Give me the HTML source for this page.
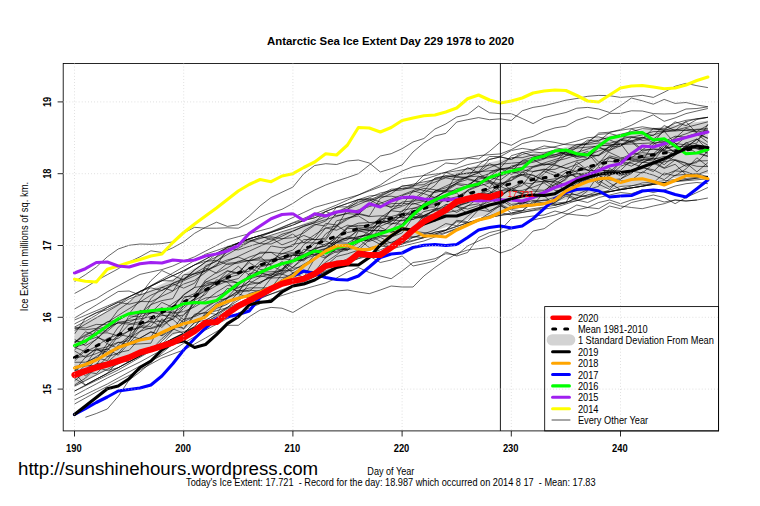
<!DOCTYPE html><html><head><meta charset="utf-8"><style>html,body{margin:0;padding:0;background:#fff;width:760px;height:506px;overflow:hidden}</style></head><body><svg width="760" height="506" viewBox="0 0 760 506" style="position:absolute;left:0;top:0;font-family:'Liberation Sans',sans-serif">
<rect width="760" height="506" fill="#fff"/>
<polygon points="74.5,327.5 85.4,321.9 96.3,316.4 107.3,311.1 118.2,305.8 129.1,300.4 140.0,294.9 150.9,289.5 161.9,284.1 172.8,279.1 183.7,274.0 194.6,268.2 205.5,262.5 216.5,256.5 227.4,250.5 238.3,246.2 249.2,242.0 260.1,238.8 271.1,235.5 282.0,231.9 292.9,228.2 303.8,223.5 314.7,218.9 325.7,214.6 336.6,210.3 347.5,206.5 358.4,202.7 369.3,199.2 380.3,195.6 391.2,192.3 402.1,189.0 413.0,186.0 423.9,182.5 434.9,179.0 445.8,175.2 456.7,171.5 467.6,167.7 478.5,165.1 489.5,162.6 500.4,160.0 511.3,157.8 522.2,155.6 533.1,153.4 544.1,151.6 555.0,149.8 565.9,147.0 576.8,144.2 587.7,140.9 598.7,137.6 609.6,135.6 620.5,133.5 631.4,131.8 642.3,130.0 653.3,128.2 664.2,126.5 675.1,125.0 686.0,123.5 696.9,122.0 707.9,120.5 707.9,173.5 696.9,175.0 686.0,176.5 675.1,178.0 664.2,179.5 653.3,181.2 642.3,183.0 631.4,184.8 620.5,186.5 609.6,188.4 598.7,190.4 587.7,193.6 576.8,196.8 565.9,199.5 555.0,202.2 544.1,203.9 533.1,205.6 522.2,207.7 511.3,209.8 500.4,212.0 489.5,214.6 478.5,217.1 467.6,219.7 456.7,223.5 445.8,227.2 434.9,231.0 423.9,234.5 413.0,238.0 402.1,241.0 391.2,244.2 380.3,247.4 369.3,250.8 358.4,254.3 347.5,258.0 336.6,261.7 325.7,265.9 314.7,270.1 303.8,274.6 292.9,279.2 282.0,283.4 271.1,287.5 260.1,291.2 249.2,295.0 238.3,299.8 227.4,304.5 216.5,311.0 205.5,317.5 194.6,323.8 183.7,330.0 172.8,335.4 161.9,340.9 150.9,346.7 140.0,352.5 129.1,358.4 118.2,364.2 107.3,369.9 96.3,375.6 85.4,381.6 74.5,387.5" fill="#d3d3d3"/>
<g fill="none" stroke="#000" stroke-width="0.6" stroke-linejoin="round">
<path d="M74.5,293.5 L85.4,287.6 L96.3,280.7 L107.3,274.7 L118.2,268.8 L129.1,262.0 L140.0,256.8 L150.9,250.8 L161.9,252.5 L172.8,247.8 L183.7,241.8 L194.6,233.3 L205.5,227.3 L216.5,222.2 L227.4,226.4 L238.3,224.7 L249.2,216.2 L260.1,205.9 L271.1,197.4 L282.0,192.2 L292.9,187.1 L303.8,173.7 L314.7,165.5 L325.7,163.7 L336.6,164.5 L347.5,161.0 L358.4,160.0 L369.3,163.0 L380.3,172.0 L391.2,168.7 L402.1,165.0 L413.0,152.0 L423.9,142.8 L434.9,136.0 L445.8,133.4 L456.7,122.0 L467.6,119.7 L478.5,117.6 L489.5,119.7 L500.4,118.8 L511.3,120.5 L522.2,110.8 L533.1,107.4 L544.1,105.7 L555.0,103.0 L565.9,100.2 L576.8,98.5 L587.7,96.3 L598.7,95.4 L609.6,95.7 L620.5,97.4 L631.4,96.5 L642.3,95.3 L653.3,97.4 L664.2,92.2 L675.1,86.3 L686.0,83.3 L696.9,85.7 L707.9,87.6"/>
<path d="M74.5,281.6 L85.4,274.7 L96.3,267.0 L107.3,256.8 L118.2,249.0 L129.1,245.3 L140.0,244.0 L150.9,244.3 L161.9,243.6 L172.8,241.9 L183.7,233.0 L194.6,227.3 L205.5,228.2 L216.5,228.2 L227.4,227.8 L238.3,228.2 L249.2,223.0 L260.1,217.0 L271.1,212.8 L282.0,209.3 L292.9,203.4 L303.8,196.0 L314.7,190.0 L325.7,185.0 L336.6,181.0 L347.5,177.5 L358.4,173.7 L369.3,165.0 L380.3,156.0 L391.2,153.7 L402.1,148.7 L413.0,142.0 L423.9,138.5 L434.9,129.0 L445.8,124.0 L456.7,117.0 L467.6,114.5 L478.5,106.0 L489.5,112.8 L500.4,113.7 L511.3,113.7 L522.2,118.5 L533.1,123.6 L544.1,117.6 L555.0,115.0 L565.9,112.5 L576.8,108.2 L587.7,107.4 L598.7,109.0 L609.6,112.5 L620.5,105.7 L631.4,98.0 L642.3,100.8 L653.3,104.2 L664.2,99.4 L675.1,103.4 L686.0,102.5 L696.9,105.0 L707.9,106.8"/>
<path d="M74.5,320.0 L85.4,315.3 L96.3,310.7 L107.3,306.0 L118.2,301.3 L129.1,296.7 L140.0,292.0 L150.9,285.7 L161.9,279.4 L172.8,273.1 L183.7,266.8 L194.6,260.5 L205.5,254.2 L216.5,250.5 L227.4,246.7 L238.3,242.9 L249.2,239.1 L260.1,235.4 L271.1,231.6 L282.0,227.2 L292.9,222.7 L303.8,218.3 L314.7,213.9 L325.7,209.5 L336.6,205.0 L347.5,200.0 L358.4,195.0 L369.3,190.0 L380.3,185.0 L391.2,177.5 L402.1,171.0 L413.0,166.7 L423.9,164.7 L434.9,161.6 L445.8,159.9 L456.7,159.0 L467.6,157.8 L478.5,155.6 L489.5,154.7 L500.4,153.9 L511.3,149.6 L522.2,143.6 L533.1,141.0 L544.1,140.7 L555.0,142.4 L565.9,144.7 L576.8,145.0 L587.7,143.3 L598.7,133.0 L609.6,132.2 L620.5,129.6 L631.4,125.3 L642.3,119.6 L653.3,114.8 L664.2,121.3 L675.1,117.9 L686.0,113.6 L696.9,111.0 L707.9,108.5"/>
<path d="M74.5,330.5 L85.4,324.2 L96.3,317.9 L107.3,311.5 L118.2,305.2 L129.1,298.9 L140.0,295.0 L150.9,291.2 L161.9,287.3 L172.8,283.5 L183.7,279.6 L194.6,273.3 L205.5,267.1 L216.5,260.8 L227.4,254.5 L238.3,248.3 L249.2,242.0 L260.1,238.6 L271.1,235.2 L282.0,231.7 L292.9,228.3 L303.8,224.9 L314.7,221.5 L325.7,216.7 L336.6,212.0 L347.5,207.2 L358.4,202.5 L369.3,197.8 L380.3,193.0 L391.2,190.7 L402.1,188.3 L413.0,186.0 L423.9,175.0 L434.9,170.0 L445.8,163.0 L456.7,164.0 L467.6,158.0 L478.5,159.0 L489.5,151.3 L500.4,142.0 L511.3,145.3 L522.2,139.3 L533.1,136.4 L544.1,131.3 L555.0,127.9 L565.9,126.2 L576.8,120.2 L587.7,116.8 L598.7,119.3 L609.6,113.4 L620.5,113.4 L631.4,110.8 L642.3,111.0 L653.3,113.6 L664.2,114.0 L675.1,113.6 L686.0,109.0 L696.9,108.5 L707.9,106.8"/>
<path d="M74.5,342.5 L85.4,335.7 L96.3,329.0 L107.3,322.2 L118.2,315.5 L129.1,308.7 L140.0,302.0 L150.9,295.2 L161.9,290.4 L172.8,285.5 L183.7,280.7 L194.6,275.8 L205.5,271.0 L216.5,266.1 L227.4,261.3 L238.3,256.3 L249.2,251.2 L260.1,246.2 L271.1,241.2 L282.0,236.2 L292.9,231.1 L303.8,226.1 L314.7,222.9 L325.7,219.6 L336.6,216.4 L347.5,213.1 L358.4,209.9 L369.3,206.6 L380.3,203.4 L391.2,199.1 L402.1,194.9 L413.0,190.6 L423.9,186.3 L434.9,182.1 L445.8,177.8 L456.7,180.0 L467.6,177.0 L478.5,165.0 L489.5,156.5 L500.4,156.5 L511.3,150.5 L522.2,148.4 L533.1,150.0 L544.1,145.9 L555.0,147.6 L565.9,150.0 L576.8,146.7 L587.7,143.5 L598.7,140.2 L609.6,137.3 L620.5,134.5 L631.4,131.6 L642.3,128.7 L653.3,129.2 L664.2,129.8 L675.1,130.3 L686.0,127.5 L696.9,124.7 L707.9,121.8"/>
<path d="M74.5,309.0 L85.4,303.0 L96.3,298.7 L107.3,291.8 L118.2,285.9 L129.1,279.9 L140.0,274.4 L150.9,272.0 L161.9,269.6 L172.8,266.0 L183.7,261.0 L194.6,256.8 L205.5,251.1 L216.5,245.4 L227.4,239.7 L238.3,236.7 L249.2,233.7 L260.1,230.7 L271.1,227.7 L282.0,222.6 L292.9,217.5 L303.8,212.5 L314.7,207.4 L325.7,204.3 L336.6,201.2 L347.5,198.1 L358.4,195.0 L369.3,190.9 L380.3,186.8 L391.2,182.7 L402.1,178.6 L413.0,177.1 L423.9,175.6 L434.9,174.1 L445.8,172.6 L456.7,170.8 L467.6,168.9 L478.5,167.0 L489.5,165.2 L500.4,164.2 L511.3,163.2 L522.2,162.2 L533.1,161.2 L544.1,158.0 L555.0,154.7 L565.9,151.4 L576.8,148.1 L587.7,147.1 L598.7,146.1 L609.6,145.1 L620.5,144.1 L631.4,141.0 L642.3,137.9 L653.3,134.9 L664.2,131.8 L675.1,131.0 L686.0,130.1 L696.9,129.3 L707.9,128.4"/>
<path d="M74.5,318.0 L85.4,311.5 L96.3,305.0 L107.3,298.2 L118.2,291.5 L129.1,291.0 L140.0,295.0 L150.9,280.7 L161.9,270.5 L172.8,275.6 L183.7,279.9 L194.6,270.0 L205.5,262.0 L216.5,256.8 L227.4,251.5 L238.3,246.2 L249.2,241.6 L260.1,237.0 L271.1,232.4 L282.0,227.7 L292.9,223.1 L303.8,220.3 L314.7,217.5 L325.7,214.7 L336.6,211.9 L347.5,209.1 L358.4,204.5 L369.3,200.0 L380.3,195.5 L391.2,190.9 L402.1,186.4 L413.0,184.2 L423.9,181.9 L434.9,179.6 L445.8,177.4 L456.7,175.1 L467.6,172.9 L478.5,171.8 L489.5,170.8 L500.4,169.7 L511.3,168.6 L522.2,167.5 L533.1,166.4 L544.1,163.0 L555.0,159.5 L565.9,156.0 L576.8,152.5 L587.7,149.0 L598.7,145.5 L609.6,145.0 L620.5,144.5 L631.4,144.0 L642.3,143.4 L653.3,142.9 L664.2,142.4 L675.1,139.6 L686.0,136.8 L696.9,133.9 L707.9,131.1"/>
<path d="M74.5,404.0 L85.4,398.0 L96.3,392.0 L107.3,386.5 L118.2,381.0 L129.1,375.5 L140.0,370.0 L150.9,364.0 L161.9,358.0 L172.8,354.0 L183.7,350.0 L194.6,344.0 L205.5,338.0 L216.5,331.6 L227.4,325.3 L238.3,325.3 L249.2,316.8 L260.1,310.0 L271.1,307.4 L282.0,308.2 L292.9,312.5 L303.8,306.0 L314.7,300.0 L325.7,295.0 L336.6,291.0 L347.5,290.0 L358.4,292.0 L369.3,293.7 L380.3,290.0 L391.2,286.0 L402.1,287.0 L413.0,287.0 L423.9,276.0 L434.9,267.5 L445.8,260.0 L456.7,253.7 L467.6,250.0 L478.5,248.7 L489.5,247.5 L500.4,253.0 L511.3,249.5 L522.2,242.5 L533.1,231.0 L544.1,228.7 L555.0,221.0 L565.9,215.0 L576.8,210.0 L587.7,207.5 L598.7,208.7 L609.6,202.5 L620.5,206.0 L631.4,207.5 L642.3,208.7 L653.3,206.0 L664.2,203.7 L675.1,200.0 L686.0,201.0 L696.9,200.0"/>
<path d="M74.5,399.9 L85.4,394.6 L96.3,389.3 L107.3,384.0 L118.2,378.0 L129.1,372.0 L140.0,366.0 L150.9,360.7 L161.9,355.3 L172.8,350.0 L183.7,343.3 L194.6,336.7 L205.5,330.0 L216.5,324.3 L227.4,318.7 L238.3,313.0 L249.2,308.3 L260.1,303.7 L271.1,299.0 L282.0,295.5 L292.9,292.0 L303.8,289.0 L314.7,286.0 L325.7,283.0 L336.6,278.0 L347.5,272.0 L358.4,267.5 L369.3,272.5 L380.3,276.0 L391.2,278.7 L402.1,271.0 L413.0,262.5 L423.9,261.0 L434.9,258.7 L445.8,253.7 L456.7,255.0 L467.6,246.0 L478.5,241.0 L489.5,236.0 L500.4,232.5 L511.3,228.7 L522.2,226.0 L533.1,220.0 L544.1,217.5 L555.0,215.0 L565.9,211.0 L576.8,205.0 L587.7,207.5 L598.7,202.5 L609.6,200.0 L620.5,203.7 L631.4,200.0 L642.3,197.5 L653.3,195.0 L664.2,197.5 L675.1,203.7 L686.0,197.5 L696.9,192.5 L707.9,187.5"/>
<path d="M74.5,395.6 L85.4,389.7 L96.3,383.9 L107.3,378.0 L118.2,372.7 L129.1,367.3 L140.0,362.0 L150.9,356.0 L161.9,350.0 L172.8,344.0 L183.7,337.7 L194.6,331.3 L205.5,325.0 L216.5,319.3 L227.4,313.7 L238.3,308.0 L249.2,303.3 L260.1,298.7 L271.1,294.0 L282.0,289.7 L292.9,285.3 L303.8,281.0 L314.7,276.3 L325.7,271.7 L336.6,267.0 L347.5,262.9 L358.4,258.7 L369.3,256.0 L380.3,262.5 L391.2,260.0 L402.1,256.0 L413.0,266.0 L423.9,263.7 L434.9,261.0 L445.8,252.0 L456.7,256.0 L467.6,252.5 L478.5,237.5 L489.5,232.5 L500.4,230.0 L511.3,218.7 L522.2,217.5 L533.1,216.0 L544.1,215.0 L555.0,211.0 L565.9,213.7 L576.8,215.0 L587.7,216.0 L598.7,212.5 L609.6,206.0 L620.5,208.7 L631.4,202.5 L642.3,200.0 L653.3,198.7 L664.2,202.0 L675.1,200.0 L686.0,201.0 L696.9,200.0 L707.9,198.0"/>
<path d="M74.5,391.0 L85.4,385.8 L96.3,380.5 L107.3,375.3 L118.2,370.0 L129.1,363.7 L140.0,357.3 L150.9,351.0 L161.9,344.6 L172.8,338.3 L183.7,332.9 L194.6,327.5 L205.5,322.1 L216.5,316.7 L227.4,311.2 L238.3,306.2 L249.2,301.1 L260.1,296.1 L271.1,291.0 L282.0,285.9 L292.9,282.1 L303.8,278.3 L314.7,274.5 L325.7,270.7 L336.6,266.8 L347.5,262.6 L358.4,258.3 L369.3,254.0 L380.3,249.8 L391.2,245.5 L402.1,242.9 L413.0,240.3 L423.9,237.7 L434.9,235.0 L445.8,232.4 L456.7,228.4 L467.6,224.5 L478.5,220.5 L489.5,216.5 L500.4,212.5 L511.3,215.0 L522.2,212.5 L533.1,210.0 L544.1,207.5 L555.0,202.5 L565.9,196.0 L576.8,200.0 L587.7,202.5 L598.7,197.5 L609.6,195.0 L620.5,192.5 L631.4,193.7 L642.3,190.0 L653.3,192.5 L664.2,190.0 L675.1,186.0 L686.0,183.7 L696.9,182.5 L707.9,183.7"/>
<path d="M85.4,417.3 L96.3,413.5 L107.3,409.0 L118.2,396.4 L129.1,380.0 L140.0,372.0 L150.9,362.6 L161.9,353.3 L172.8,343.9 L183.7,336.8 L194.6,329.8 L205.5,322.7 L216.5,315.6 L227.4,308.6 L238.3,304.9 L249.2,301.3 L260.1,297.7 L271.1,294.1 L282.0,290.5 L292.9,286.8 L303.8,281.9 L314.7,276.9 L325.7,271.9 L336.6,266.9 L347.5,261.9 L358.4,256.9 L369.3,254.2 L380.3,251.6 L391.2,248.9 L402.1,246.3 L413.0,243.6 L423.9,241.0 L434.9,237.0 L445.8,233.1 L456.7,229.1 L467.6,225.1 L478.5,221.1 L489.5,217.2 L500.4,215.5 L511.3,213.9 L522.2,212.3 L533.1,210.7 L544.1,209.1 L555.0,207.4 L565.9,204.0 L576.8,200.5 L587.7,197.0 L598.7,193.5 L609.6,190.0 L620.5,186.5 L631.4,185.5 L642.3,184.6 L653.3,183.6 L664.2,182.7 L675.1,181.7 L686.0,180.7 L696.9,179.8 L707.9,178.8"/>
<path d="M74.5,386.0 L85.4,380.5 L96.3,374.9 L107.3,369.4 L118.2,363.9 L129.1,358.4 L140.0,353.5 L150.9,348.7 L161.9,343.9 L172.8,339.0 L183.7,334.2 L194.6,327.4 L205.5,320.7 L216.5,313.9 L227.4,307.2 L238.3,300.4 L249.2,293.7 L260.1,290.2 L271.1,286.7 L282.0,283.2 L292.9,279.7 L303.8,276.2 L314.7,272.7 L325.7,268.0 L336.6,263.4 L347.5,258.7 L358.4,254.1 L369.3,249.5 L380.3,244.8 L391.2,242.3 L402.1,239.8 L413.0,237.3 L423.9,234.8 L434.9,232.3 L445.8,229.8 L456.7,226.3 L467.6,222.7 L478.5,219.2 L489.5,215.6 L500.4,212.1 L511.3,208.5 L522.2,207.2 L533.1,205.9 L544.1,204.6 L555.0,203.3 L565.9,202.0 L576.8,200.7 L587.7,197.8 L598.7,194.8 L609.6,191.9 L620.5,188.9 L631.4,186.0 L642.3,183.0 L653.3,181.9 L664.2,180.7 L675.1,179.6 L686.0,178.4 L696.9,177.3 L707.9,176.2"/>
<path d="M74.5,327.0 L85.4,321.3 L96.3,315.1 L107.3,307.6 L118.2,302.3 L129.1,304.2 L140.0,301.5 L150.9,301.7 L161.9,296.2 L172.8,291.2 L183.7,274.7 L194.6,273.9 L205.5,270.1 L216.5,265.6 L227.4,249.0 L238.3,243.0 L249.2,238.8 L260.1,235.6 L271.1,232.4 L282.0,228.8 L292.9,225.1 L303.8,220.5 L314.7,218.0 L325.7,211.5 L336.6,215.7 L347.5,213.6 L358.4,214.5 L369.3,204.0 L380.3,196.4 L391.2,191.0 L402.1,189.9 L413.0,186.7 L423.9,179.4 L434.9,175.9 L445.8,172.1 L456.7,168.3 L467.6,164.6 L478.5,162.3 L489.5,159.4 L500.4,156.9 L511.3,159.5 L522.2,152.5 L533.1,150.3 L544.1,148.5 L555.0,146.7 L565.9,143.8 L576.8,141.0 L587.7,137.7 L598.7,136.9 L609.6,139.9 L620.5,144.5 L631.4,142.3 L642.3,139.0 L653.3,128.4 L664.2,128.8 L675.1,123.3 L686.0,120.3 L696.9,118.8 L707.9,117.3"/>
<path d="M74.5,334.0 L85.4,318.4 L96.3,312.8 L107.3,309.7 L118.2,304.5 L129.1,296.9 L140.0,291.4 L150.9,286.1 L161.9,280.7 L172.8,275.7 L183.7,270.6 L194.6,264.9 L205.5,261.3 L216.5,260.4 L227.4,264.6 L238.3,263.1 L249.2,260.4 L260.1,258.5 L271.1,245.9 L282.0,247.8 L292.9,246.3 L303.8,230.8 L314.7,224.3 L325.7,226.1 L336.6,213.0 L347.5,210.5 L358.4,214.0 L369.3,204.9 L380.3,206.5 L391.2,203.7 L402.1,203.3 L413.0,204.2 L423.9,201.2 L434.9,203.3 L445.8,194.7 L456.7,188.4 L467.6,187.2 L478.5,176.7 L489.5,177.3 L500.4,180.0 L511.3,172.1 L522.2,160.4 L533.1,157.1 L544.1,154.4 L555.0,151.0 L565.9,154.0 L576.8,155.1 L587.7,141.6 L598.7,134.4 L609.6,133.5 L620.5,136.5 L631.4,137.3 L642.3,134.9 L653.3,131.6 L664.2,131.5 L675.1,129.7 L686.0,130.3 L696.9,132.1 L707.9,130.2"/>
<path d="M74.5,339.3 L85.4,345.7 L96.3,339.5 L107.3,329.3 L118.2,320.4 L129.1,314.2 L140.0,313.5 L150.9,304.6 L161.9,300.6 L172.8,298.6 L183.7,279.3 L194.6,269.9 L205.5,262.2 L216.5,253.8 L227.4,247.3 L238.3,243.0 L249.2,238.8 L260.1,235.6 L271.1,240.0 L282.0,234.2 L292.9,231.2 L303.8,226.5 L314.7,222.6 L325.7,211.5 L336.6,207.2 L347.5,206.7 L358.4,199.6 L369.3,198.2 L380.3,202.0 L391.2,208.0 L402.1,195.5 L413.0,192.1 L423.9,188.4 L434.9,189.7 L445.8,192.3 L456.7,173.9 L467.6,173.7 L478.5,171.9 L489.5,159.4 L500.4,156.9 L511.3,159.4 L522.2,154.5 L533.1,151.9 L544.1,153.0 L555.0,150.0 L565.9,150.6 L576.8,156.5 L587.7,153.1 L598.7,165.7 L609.6,155.9 L620.5,158.6 L631.4,154.3 L642.3,152.7 L653.3,154.0 L664.2,150.5 L675.1,138.4 L686.0,128.4 L696.9,131.5 L707.9,125.2"/>
<path d="M74.5,327.3 L85.4,328.0 L96.3,324.4 L107.3,324.8 L118.2,310.0 L129.1,302.4 L140.0,291.4 L150.9,287.8 L161.9,290.5 L172.8,283.9 L183.7,288.1 L194.6,283.2 L205.5,268.1 L216.5,273.2 L227.4,267.8 L238.3,261.3 L249.2,260.5 L260.1,260.0 L271.1,259.8 L282.0,256.7 L292.9,255.2 L303.8,252.3 L314.7,240.7 L325.7,228.0 L336.6,226.0 L347.5,219.4 L358.4,213.4 L369.3,216.1 L380.3,198.4 L391.2,193.6 L402.1,185.9 L413.0,185.3 L423.9,184.7 L434.9,178.7 L445.8,176.0 L456.7,177.5 L467.6,176.9 L478.5,176.1 L489.5,180.8 L500.4,186.3 L511.3,191.2 L522.2,182.8 L533.1,183.8 L544.1,170.2 L555.0,163.0 L565.9,150.8 L576.8,144.3 L587.7,144.5 L598.7,143.0 L609.6,143.3 L620.5,140.2 L631.4,141.9 L642.3,151.2 L653.3,149.0 L664.2,149.4 L675.1,145.7 L686.0,136.8 L696.9,133.2 L707.9,138.6"/>
<path d="M74.5,328.4 L85.4,329.8 L96.3,328.4 L107.3,321.8 L118.2,320.1 L129.1,313.8 L140.0,299.9 L150.9,286.1 L161.9,280.7 L172.8,280.9 L183.7,271.6 L194.6,264.9 L205.5,259.2 L216.5,253.2 L227.4,247.3 L238.3,243.0 L249.2,238.8 L260.1,235.6 L271.1,232.4 L282.0,228.8 L292.9,225.1 L303.8,220.5 L314.7,215.8 L325.7,211.5 L336.6,207.2 L347.5,203.4 L358.4,199.6 L369.3,199.6 L380.3,205.5 L391.2,206.4 L402.1,205.3 L413.0,190.9 L423.9,193.7 L434.9,197.5 L445.8,191.1 L456.7,184.4 L467.6,187.0 L478.5,181.9 L489.5,187.5 L500.4,174.0 L511.3,171.5 L522.2,175.3 L533.1,167.4 L544.1,164.6 L555.0,163.8 L565.9,155.4 L576.8,154.4 L587.7,155.4 L598.7,151.0 L609.6,147.2 L620.5,139.4 L631.4,136.5 L642.3,140.5 L653.3,139.1 L664.2,131.3 L675.1,143.5 L686.0,144.9 L696.9,143.1 L707.9,124.2"/>
<path d="M74.5,347.2 L85.4,351.7 L96.3,346.5 L107.3,338.5 L118.2,334.6 L129.1,315.8 L140.0,317.0 L150.9,312.7 L161.9,302.4 L172.8,307.4 L183.7,295.0 L194.6,287.5 L205.5,285.6 L216.5,282.0 L227.4,274.7 L238.3,266.3 L249.2,275.1 L260.1,276.4 L271.1,259.3 L282.0,259.6 L292.9,255.4 L303.8,254.8 L314.7,248.2 L325.7,233.8 L336.6,227.2 L347.5,209.1 L358.4,201.0 L369.3,201.0 L380.3,196.9 L391.2,196.2 L402.1,198.1 L413.0,198.8 L423.9,199.6 L434.9,197.3 L445.8,191.7 L456.7,192.3 L467.6,185.7 L478.5,177.4 L489.5,173.5 L500.4,169.3 L511.3,167.2 L522.2,164.2 L533.1,162.3 L544.1,159.1 L555.0,150.3 L565.9,154.2 L576.8,156.8 L587.7,154.6 L598.7,155.5 L609.6,149.4 L620.5,139.2 L631.4,141.2 L642.3,137.2 L653.3,142.6 L664.2,130.0 L675.1,121.8 L686.0,125.7 L696.9,119.5 L707.9,117.3"/>
<path d="M74.5,342.0 L85.4,341.1 L96.3,337.3 L107.3,341.0 L118.2,338.3 L129.1,330.6 L140.0,326.9 L150.9,328.8 L161.9,325.3 L172.8,318.8 L183.7,306.0 L194.6,298.9 L205.5,286.4 L216.5,282.5 L227.4,275.5 L238.3,272.1 L249.2,262.5 L260.1,269.5 L271.1,269.1 L282.0,261.6 L292.9,267.7 L303.8,256.1 L314.7,252.2 L325.7,249.0 L336.6,240.6 L347.5,227.5 L358.4,223.2 L369.3,222.6 L380.3,223.6 L391.2,220.0 L402.1,220.8 L413.0,219.5 L423.9,215.5 L434.9,210.9 L445.8,204.6 L456.7,203.7 L467.6,190.0 L478.5,185.0 L489.5,172.8 L500.4,167.9 L511.3,155.7 L522.2,152.5 L533.1,155.7 L544.1,158.4 L555.0,157.0 L565.9,152.1 L576.8,158.4 L587.7,155.6 L598.7,155.7 L609.6,145.9 L620.5,141.4 L631.4,129.0 L642.3,132.5 L653.3,135.7 L664.2,125.5 L675.1,130.6 L686.0,121.7 L696.9,118.8 L707.9,117.3"/>
<path d="M74.5,341.8 L85.4,334.7 L96.3,329.3 L107.3,326.3 L118.2,323.2 L129.1,324.1 L140.0,321.7 L150.9,304.5 L161.9,294.3 L172.8,283.0 L183.7,278.5 L194.6,273.6 L205.5,271.2 L216.5,256.5 L227.4,247.3 L238.3,244.0 L249.2,240.8 L260.1,237.9 L271.1,236.8 L282.0,238.7 L292.9,237.6 L303.8,232.9 L314.7,225.2 L325.7,221.0 L336.6,207.2 L347.5,203.4 L358.4,199.6 L369.3,196.0 L380.3,194.7 L391.2,189.2 L402.1,188.6 L413.0,188.0 L423.9,190.5 L434.9,192.6 L445.8,189.9 L456.7,182.8 L467.6,179.5 L478.5,181.9 L489.5,181.1 L500.4,174.6 L511.3,166.0 L522.2,163.7 L533.1,159.6 L544.1,154.3 L555.0,154.9 L565.9,152.4 L576.8,155.1 L587.7,151.4 L598.7,162.1 L609.6,157.4 L620.5,160.8 L631.4,158.1 L642.3,160.9 L653.3,144.3 L664.2,139.5 L675.1,142.8 L686.0,154.3 L696.9,152.5 L707.9,155.9"/>
<path d="M74.5,358.1 L85.4,356.0 L96.3,349.3 L107.3,346.9 L118.2,334.5 L129.1,336.6 L140.0,324.4 L150.9,320.8 L161.9,327.4 L172.8,316.8 L183.7,315.0 L194.6,305.4 L205.5,291.9 L216.5,285.6 L227.4,281.1 L238.3,278.6 L249.2,267.8 L260.1,272.7 L271.1,275.2 L282.0,268.9 L292.9,259.4 L303.8,259.9 L314.7,248.6 L325.7,246.0 L336.6,237.1 L347.5,228.6 L358.4,228.3 L369.3,230.7 L380.3,221.5 L391.2,221.4 L402.1,216.2 L413.0,213.5 L423.9,216.6 L434.9,216.3 L445.8,206.5 L456.7,212.5 L467.6,206.1 L478.5,198.1 L489.5,194.3 L500.4,181.9 L511.3,190.2 L522.2,194.3 L533.1,183.7 L544.1,173.6 L555.0,164.6 L565.9,168.4 L576.8,164.4 L587.7,158.8 L598.7,154.7 L609.6,146.9 L620.5,146.1 L631.4,137.6 L642.3,137.7 L653.3,139.4 L664.2,141.7 L675.1,136.2 L686.0,137.1 L696.9,134.1 L707.9,142.3"/>
<path d="M74.5,358.9 L85.4,349.2 L96.3,339.0 L107.3,328.6 L118.2,322.6 L129.1,320.4 L140.0,318.8 L150.9,316.6 L161.9,322.5 L172.8,310.7 L183.7,319.8 L194.6,299.2 L205.5,289.2 L216.5,283.5 L227.4,277.6 L238.3,274.8 L249.2,268.1 L260.1,266.1 L271.1,263.6 L282.0,250.4 L292.9,244.3 L303.8,242.4 L314.7,234.7 L325.7,227.9 L336.6,230.2 L347.5,225.2 L358.4,227.0 L369.3,227.7 L380.3,226.3 L391.2,221.6 L402.1,210.4 L413.0,208.2 L423.9,207.9 L434.9,201.8 L445.8,198.2 L456.7,198.9 L467.6,191.0 L478.5,199.3 L489.5,192.8 L500.4,190.8 L511.3,187.6 L522.2,193.3 L533.1,191.1 L544.1,192.4 L555.0,184.8 L565.9,179.7 L576.8,165.8 L587.7,170.5 L598.7,170.8 L609.6,157.7 L620.5,159.9 L631.4,156.9 L642.3,157.3 L653.3,156.8 L664.2,145.7 L675.1,152.7 L686.0,147.0 L696.9,139.7 L707.9,131.9"/>
<path d="M74.5,350.9 L85.4,357.3 L96.3,353.6 L107.3,348.7 L118.2,355.2 L129.1,343.1 L140.0,331.4 L150.9,327.9 L161.9,324.1 L172.8,308.4 L183.7,302.3 L194.6,295.3 L205.5,280.0 L216.5,272.5 L227.4,263.4 L238.3,262.1 L249.2,257.1 L260.1,253.4 L271.1,252.4 L282.0,259.4 L292.9,255.1 L303.8,256.5 L314.7,248.4 L325.7,245.6 L336.6,246.1 L347.5,250.0 L358.4,242.7 L369.3,236.3 L380.3,223.2 L391.2,220.0 L402.1,213.3 L413.0,212.9 L423.9,203.7 L434.9,191.2 L445.8,190.8 L456.7,190.8 L467.6,187.1 L478.5,186.1 L489.5,183.0 L500.4,185.6 L511.3,177.0 L522.2,174.3 L533.1,175.1 L544.1,180.3 L555.0,178.8 L565.9,175.9 L576.8,173.0 L587.7,176.8 L598.7,166.8 L609.6,175.6 L620.5,166.3 L631.4,162.1 L642.3,159.3 L653.3,161.2 L664.2,147.7 L675.1,146.6 L686.0,146.4 L696.9,145.0 L707.9,154.3"/>
<path d="M74.5,362.3 L85.4,362.2 L96.3,357.6 L107.3,360.6 L118.2,344.9 L129.1,336.1 L140.0,310.3 L150.9,313.2 L161.9,307.6 L172.8,313.3 L183.7,311.6 L194.6,306.9 L205.5,300.6 L216.5,292.3 L227.4,285.4 L238.3,287.3 L249.2,284.5 L260.1,282.5 L271.1,276.7 L282.0,274.3 L292.9,268.4 L303.8,266.4 L314.7,259.7 L325.7,248.7 L336.6,252.4 L347.5,250.0 L358.4,239.9 L369.3,240.9 L380.3,227.3 L391.2,232.4 L402.1,229.2 L413.0,229.1 L423.9,224.4 L434.9,218.1 L445.8,204.8 L456.7,206.5 L467.6,201.1 L478.5,198.9 L489.5,195.2 L500.4,194.8 L511.3,188.9 L522.2,185.6 L533.1,171.5 L544.1,169.1 L555.0,172.6 L565.9,177.4 L576.8,173.0 L587.7,177.5 L598.7,170.3 L609.6,170.8 L620.5,175.8 L631.4,171.0 L642.3,173.0 L653.3,164.1 L664.2,161.9 L675.1,159.6 L686.0,162.9 L696.9,171.9 L707.9,162.6"/>
<path d="M74.5,361.1 L85.4,350.5 L96.3,350.2 L107.3,349.4 L118.2,342.6 L129.1,340.7 L140.0,325.9 L150.9,326.4 L161.9,312.4 L172.8,303.3 L183.7,296.6 L194.6,296.5 L205.5,290.9 L216.5,282.3 L227.4,279.3 L238.3,282.9 L249.2,276.4 L260.1,273.2 L271.1,276.0 L282.0,264.0 L292.9,273.0 L303.8,277.3 L314.7,258.5 L325.7,252.8 L336.6,249.7 L347.5,249.7 L358.4,247.5 L369.3,237.9 L380.3,231.5 L391.2,230.8 L402.1,218.5 L413.0,208.6 L423.9,204.7 L434.9,191.0 L445.8,187.8 L456.7,183.6 L467.6,184.7 L478.5,179.1 L489.5,176.7 L500.4,176.0 L511.3,172.1 L522.2,172.1 L533.1,175.5 L544.1,180.5 L555.0,186.9 L565.9,178.2 L576.8,161.7 L587.7,170.5 L598.7,163.0 L609.6,161.3 L620.5,162.5 L631.4,153.3 L642.3,155.3 L653.3,153.9 L664.2,144.3 L675.1,152.5 L686.0,142.5 L696.9,148.4 L707.9,149.6"/>
<path d="M74.5,370.3 L85.4,372.4 L96.3,363.8 L107.3,362.4 L118.2,352.7 L129.1,350.3 L140.0,338.2 L150.9,331.6 L161.9,335.7 L172.8,329.5 L183.7,314.7 L194.6,303.0 L205.5,298.0 L216.5,296.5 L227.4,291.2 L238.3,288.0 L249.2,281.5 L260.1,283.7 L271.1,274.8 L282.0,273.3 L292.9,267.0 L303.8,258.9 L314.7,249.9 L325.7,243.8 L336.6,242.6 L347.5,239.9 L358.4,229.0 L369.3,229.5 L380.3,221.8 L391.2,224.4 L402.1,220.3 L413.0,216.4 L423.9,218.0 L434.9,221.4 L445.8,212.7 L456.7,210.8 L467.6,205.6 L478.5,203.8 L489.5,210.7 L500.4,206.1 L511.3,209.9 L522.2,210.8 L533.1,202.7 L544.1,199.9 L555.0,202.2 L565.9,194.1 L576.8,198.9 L587.7,190.8 L598.7,174.5 L609.6,175.3 L620.5,161.9 L631.4,166.2 L642.3,160.1 L653.3,158.8 L664.2,164.7 L675.1,155.3 L686.0,145.9 L696.9,153.3 L707.9,156.6"/>
<path d="M74.5,366.4 L85.4,366.0 L96.3,365.3 L107.3,346.7 L118.2,342.2 L129.1,344.4 L140.0,343.9 L150.9,343.2 L161.9,322.5 L172.8,319.3 L183.7,329.1 L194.6,315.4 L205.5,306.7 L216.5,300.3 L227.4,298.5 L238.3,290.3 L249.2,291.3 L260.1,282.0 L271.1,277.5 L282.0,272.2 L292.9,262.8 L303.8,249.3 L314.7,251.4 L325.7,248.4 L336.6,240.8 L347.5,238.2 L358.4,239.5 L369.3,230.7 L380.3,230.7 L391.2,230.2 L402.1,224.7 L413.0,210.7 L423.9,215.8 L434.9,214.4 L445.8,210.7 L456.7,205.5 L467.6,202.8 L478.5,194.4 L489.5,188.6 L500.4,184.3 L511.3,180.6 L522.2,174.3 L533.1,178.2 L544.1,171.2 L555.0,175.5 L565.9,170.3 L576.8,178.1 L587.7,177.2 L598.7,170.9 L609.6,170.5 L620.5,170.4 L631.4,160.1 L642.3,157.6 L653.3,159.2 L664.2,156.4 L675.1,160.4 L686.0,163.4 L696.9,166.3 L707.9,166.6"/>
<path d="M74.5,370.7 L85.4,363.6 L96.3,356.5 L107.3,350.7 L118.2,335.9 L129.1,331.0 L140.0,327.7 L150.9,318.5 L161.9,315.5 L172.8,315.0 L183.7,322.3 L194.6,300.1 L205.5,294.5 L216.5,279.8 L227.4,282.1 L238.3,293.2 L249.2,273.6 L260.1,272.0 L271.1,271.8 L282.0,270.6 L292.9,254.6 L303.8,256.2 L314.7,254.1 L325.7,250.1 L336.6,242.9 L347.5,243.1 L358.4,236.7 L369.3,234.4 L380.3,219.1 L391.2,217.8 L402.1,217.4 L413.0,219.5 L423.9,211.6 L434.9,209.0 L445.8,209.3 L456.7,206.3 L467.6,213.5 L478.5,208.5 L489.5,198.7 L500.4,204.8 L511.3,213.0 L522.2,210.8 L533.1,208.7 L544.1,207.0 L555.0,205.3 L565.9,202.5 L576.8,185.3 L587.7,174.8 L598.7,184.2 L609.6,189.3 L620.5,179.2 L631.4,170.7 L642.3,168.7 L653.3,161.5 L664.2,167.8 L675.1,160.1 L686.0,166.3 L696.9,161.0 L707.9,160.7"/>
<path d="M74.5,374.8 L85.4,370.3 L96.3,359.6 L107.3,343.3 L118.2,327.2 L129.1,318.6 L140.0,313.7 L150.9,312.8 L161.9,311.4 L172.8,313.1 L183.7,305.8 L194.6,298.6 L205.5,284.0 L216.5,281.6 L227.4,281.8 L238.3,282.7 L249.2,279.0 L260.1,275.7 L271.1,278.0 L282.0,277.6 L292.9,275.6 L303.8,270.8 L314.7,271.7 L325.7,262.2 L336.6,254.9 L347.5,246.3 L358.4,238.8 L369.3,247.6 L380.3,246.0 L391.2,247.2 L402.1,244.1 L413.0,241.1 L423.9,237.6 L434.9,234.1 L445.8,230.4 L456.7,226.6 L467.6,222.8 L478.5,219.9 L489.5,213.1 L500.4,205.5 L511.3,198.3 L522.2,204.4 L533.1,197.8 L544.1,195.8 L555.0,205.1 L565.9,202.7 L576.8,197.8 L587.7,195.1 L598.7,193.6 L609.6,191.6 L620.5,189.7 L631.4,187.9 L642.3,186.2 L653.3,184.4 L664.2,182.7 L675.1,175.3 L686.0,174.3 L696.9,174.8 L707.9,170.6"/>
<path d="M74.5,378.3 L85.4,385.1 L96.3,379.2 L107.3,373.4 L118.2,360.9 L129.1,361.8 L140.0,356.0 L150.9,350.1 L161.9,338.6 L172.8,329.4 L183.7,321.8 L194.6,316.0 L205.5,307.8 L216.5,301.1 L227.4,288.4 L238.3,290.9 L249.2,280.9 L260.1,267.0 L271.1,264.3 L282.0,256.9 L292.9,253.5 L303.8,252.7 L314.7,243.5 L325.7,241.0 L336.6,246.1 L347.5,246.1 L358.4,241.1 L369.3,239.1 L380.3,236.0 L391.2,237.1 L402.1,233.0 L413.0,217.3 L423.9,216.1 L434.9,209.9 L445.8,211.9 L456.7,206.3 L467.6,209.1 L478.5,205.6 L489.5,201.9 L500.4,196.9 L511.3,187.7 L522.2,182.6 L533.1,189.8 L544.1,190.3 L555.0,183.9 L565.9,176.6 L576.8,174.0 L587.7,172.9 L598.7,175.1 L609.6,182.9 L620.5,189.7 L631.4,187.9 L642.3,186.2 L653.3,184.4 L664.2,182.7 L675.1,181.2 L686.0,179.7 L696.9,178.2 L707.9,176.7"/>
<path d="M74.5,375.7 L85.4,365.0 L96.3,349.4 L107.3,352.4 L118.2,349.5 L129.1,335.8 L140.0,338.8 L150.9,337.1 L161.9,318.7 L172.8,328.7 L183.7,333.4 L194.6,322.6 L205.5,320.0 L216.5,314.3 L227.4,307.7 L238.3,303.0 L249.2,298.2 L260.1,292.1 L271.1,278.1 L282.0,269.5 L292.9,261.7 L303.8,258.9 L314.7,255.4 L325.7,250.7 L336.6,242.5 L347.5,236.8 L358.4,238.7 L369.3,241.4 L380.3,237.3 L391.2,243.3 L402.1,236.4 L413.0,236.8 L423.9,237.6 L434.9,232.1 L445.8,230.4 L456.7,220.3 L467.6,221.7 L478.5,209.8 L489.5,211.5 L500.4,204.3 L511.3,209.6 L522.2,203.3 L533.1,200.5 L544.1,200.6 L555.0,197.2 L565.9,194.8 L576.8,194.5 L587.7,189.7 L598.7,186.3 L609.6,168.5 L620.5,174.6 L631.4,173.3 L642.3,162.3 L653.3,163.1 L664.2,168.4 L675.1,164.3 L686.0,174.7 L696.9,173.6 L707.9,176.7"/>
<path d="M74.5,385.0 L85.4,378.2 L96.3,367.2 L107.3,370.5 L118.2,367.7 L129.1,361.8 L140.0,356.0 L150.9,350.1 L161.9,341.4 L172.8,330.3 L183.7,319.4 L194.6,316.7 L205.5,311.9 L216.5,303.2 L227.4,297.5 L238.3,291.6 L249.2,287.9 L260.1,287.8 L271.1,288.0 L282.0,274.2 L292.9,277.5 L303.8,272.1 L314.7,272.0 L325.7,257.3 L336.6,251.3 L347.5,248.1 L358.4,237.2 L369.3,235.2 L380.3,241.3 L391.2,247.3 L402.1,240.6 L413.0,231.2 L423.9,232.6 L434.9,234.1 L445.8,230.4 L456.7,221.6 L467.6,222.8 L478.5,220.3 L489.5,217.7 L500.4,215.1 L511.3,213.0 L522.2,210.8 L533.1,201.3 L544.1,203.1 L555.0,205.0 L565.9,202.7 L576.8,197.6 L587.7,194.9 L598.7,191.0 L609.6,191.6 L620.5,189.7 L631.4,187.9 L642.3,186.2 L653.3,184.4 L664.2,182.7 L675.1,181.2 L686.0,179.7 L696.9,178.2 L707.9,176.7"/>
<path d="M74.5,391.1 L85.4,385.1 L96.3,379.2 L107.3,373.4 L118.2,367.7 L129.1,361.8 L140.0,356.0 L150.9,350.1 L161.9,344.3 L172.8,333.4 L183.7,331.6 L194.6,327.1 L205.5,312.8 L216.5,310.8 L227.4,307.5 L238.3,297.5 L249.2,283.8 L260.1,277.0 L271.1,273.5 L282.0,271.0 L292.9,259.7 L303.8,260.8 L314.7,251.8 L325.7,256.5 L336.6,248.6 L347.5,244.5 L358.4,239.7 L369.3,238.7 L380.3,244.4 L391.2,247.3 L402.1,244.1 L413.0,237.5 L423.9,233.8 L434.9,229.9 L445.8,223.6 L456.7,225.6 L467.6,216.3 L478.5,207.7 L489.5,195.0 L500.4,198.1 L511.3,204.4 L522.2,203.0 L533.1,195.4 L544.1,180.3 L555.0,182.9 L565.9,190.9 L576.8,195.4 L587.7,196.8 L598.7,193.6 L609.6,191.6 L620.5,189.7 L631.4,187.9 L642.3,186.2 L653.3,183.0 L664.2,173.1 L675.1,175.8 L686.0,168.9 L696.9,157.8 L707.9,166.4"/>
<path d="M74.5,343.4 L85.4,331.8 L96.3,335.6 L107.3,343.7 L118.2,348.4 L129.1,338.0 L140.0,331.4 L150.9,322.5 L161.9,320.9 L172.8,316.3 L183.7,298.1 L194.6,293.6 L205.5,282.1 L216.5,277.5 L227.4,270.7 L238.3,272.9 L249.2,271.2 L260.1,261.5 L271.1,260.4 L282.0,253.8 L292.9,252.7 L303.8,254.2 L314.7,254.9 L325.7,251.1 L336.6,237.7 L347.5,227.0 L358.4,225.4 L369.3,225.7 L380.3,218.9 L391.2,223.3 L402.1,224.3 L413.0,212.0 L423.9,205.5 L434.9,204.7 L445.8,199.7 L456.7,196.7 L467.6,190.7 L478.5,186.3 L489.5,176.5 L500.4,168.7 L511.3,167.9 L522.2,161.1 L533.1,159.6 L544.1,165.3 L555.0,161.3 L565.9,158.6 L576.8,154.8 L587.7,158.3 L598.7,148.0 L609.6,150.3 L620.5,145.9 L631.4,140.6 L642.3,149.7 L653.3,142.7 L664.2,150.5 L675.1,154.9 L686.0,145.4 L696.9,148.9 L707.9,152.8"/>
<path d="M74.5,367.0 L85.4,375.8 L96.3,367.9 L107.3,357.2 L118.2,346.4 L129.1,342.8 L140.0,338.0 L150.9,332.2 L161.9,335.2 L172.8,326.4 L183.7,328.2 L194.6,314.1 L205.5,312.9 L216.5,314.3 L227.4,297.5 L238.3,285.7 L249.2,275.8 L260.1,263.8 L271.1,261.4 L282.0,258.5 L292.9,260.3 L303.8,244.6 L314.7,237.7 L325.7,223.5 L336.6,225.0 L347.5,218.1 L358.4,214.2 L369.3,216.6 L380.3,215.8 L391.2,216.6 L402.1,213.6 L413.0,214.3 L423.9,207.1 L434.9,207.0 L445.8,195.6 L456.7,193.2 L467.6,202.2 L478.5,193.4 L489.5,193.7 L500.4,187.0 L511.3,178.0 L522.2,175.1 L533.1,180.1 L544.1,182.2 L555.0,181.0 L565.9,172.3 L576.8,176.7 L587.7,173.3 L598.7,163.7 L609.6,150.5 L620.5,143.3 L631.4,157.9 L642.3,150.0 L653.3,149.0 L664.2,151.1 L675.1,150.0 L686.0,143.1 L696.9,139.0 L707.9,149.9"/>
<path d="M74.5,350.2 L85.4,336.8 L96.3,333.3 L107.3,332.8 L118.2,335.8 L129.1,324.3 L140.0,324.0 L150.9,321.4 L161.9,311.7 L172.8,306.7 L183.7,294.5 L194.6,287.4 L205.5,265.7 L216.5,261.3 L227.4,251.8 L238.3,243.0 L249.2,239.5 L260.1,243.6 L271.1,244.0 L282.0,239.2 L292.9,234.0 L303.8,242.7 L314.7,242.9 L325.7,245.3 L336.6,237.3 L347.5,239.0 L358.4,236.7 L369.3,234.2 L380.3,234.4 L391.2,224.5 L402.1,214.3 L413.0,203.0 L423.9,206.6 L434.9,198.9 L445.8,190.2 L456.7,183.0 L467.6,176.7 L478.5,173.0 L489.5,167.7 L500.4,163.3 L511.3,157.6 L522.2,157.7 L533.1,154.8 L544.1,155.4 L555.0,156.3 L565.9,154.4 L576.8,147.8 L587.7,140.0 L598.7,141.4 L609.6,132.4 L620.5,130.3 L631.4,128.6 L642.3,126.8 L653.3,128.5 L664.2,130.6 L675.1,126.8 L686.0,121.7 L696.9,133.3 L707.9,138.1"/>
<path d="M74.5,347.2 L85.4,344.0 L96.3,330.2 L107.3,331.2 L118.2,322.1 L129.1,322.5 L140.0,316.4 L150.9,298.7 L161.9,287.4 L172.8,290.9 L183.7,284.0 L194.6,280.3 L205.5,272.5 L216.5,264.2 L227.4,259.9 L238.3,257.1 L249.2,261.3 L260.1,256.9 L271.1,265.8 L282.0,270.8 L292.9,270.5 L303.8,264.2 L314.7,258.2 L325.7,251.4 L336.6,242.1 L347.5,237.8 L358.4,230.5 L369.3,233.8 L380.3,224.8 L391.2,209.6 L402.1,206.4 L413.0,201.6 L423.9,193.2 L434.9,185.5 L445.8,172.5 L456.7,176.1 L467.6,178.6 L478.5,181.3 L489.5,182.3 L500.4,190.8 L511.3,190.7 L522.2,190.4 L533.1,187.0 L544.1,182.9 L555.0,190.4 L565.9,190.8 L576.8,183.5 L587.7,178.7 L598.7,169.3 L609.6,172.2 L620.5,161.6 L631.4,163.3 L642.3,167.1 L653.3,171.5 L664.2,161.1 L675.1,153.8 L686.0,147.5 L696.9,139.1 L707.9,145.2"/>
<path d="M74.5,370.6 L85.4,357.3 L96.3,348.1 L107.3,356.6 L118.2,353.3 L129.1,340.4 L140.0,321.8 L150.9,312.4 L161.9,314.4 L172.8,319.6 L183.7,308.3 L194.6,298.5 L205.5,281.9 L216.5,282.6 L227.4,271.0 L238.3,273.8 L249.2,260.4 L260.1,252.2 L271.1,252.3 L282.0,253.7 L292.9,250.1 L303.8,239.6 L314.7,239.5 L325.7,239.9 L336.6,225.3 L347.5,232.5 L358.4,230.6 L369.3,228.1 L380.3,217.6 L391.2,210.7 L402.1,212.0 L413.0,199.4 L423.9,191.2 L434.9,178.0 L445.8,175.8 L456.7,176.3 L467.6,167.7 L478.5,172.7 L489.5,181.8 L500.4,183.7 L511.3,180.1 L522.2,172.3 L533.1,166.8 L544.1,163.8 L555.0,165.3 L565.9,168.2 L576.8,171.9 L587.7,166.6 L598.7,175.5 L609.6,180.1 L620.5,178.9 L631.4,173.5 L642.3,162.6 L653.3,158.1 L664.2,159.8 L675.1,149.3 L686.0,148.6 L696.9,148.0 L707.9,149.1"/>
<path d="M74.5,380.9 L85.4,371.6 L96.3,373.7 L107.3,362.8 L118.2,362.9 L129.1,358.6 L140.0,354.4 L150.9,350.1 L161.9,344.3 L172.8,338.8 L183.7,333.4 L194.6,326.2 L205.5,314.5 L216.5,305.0 L227.4,297.8 L238.3,293.6 L249.2,298.2 L260.1,294.4 L271.1,290.6 L282.0,282.6 L292.9,273.1 L303.8,266.9 L314.7,254.8 L325.7,258.0 L336.6,248.6 L347.5,249.2 L358.4,231.3 L369.3,230.6 L380.3,230.3 L391.2,231.8 L402.1,230.7 L413.0,228.8 L423.9,215.4 L434.9,210.2 L445.8,196.6 L456.7,200.4 L467.6,200.1 L478.5,194.5 L489.5,190.7 L500.4,199.8 L511.3,206.4 L522.2,202.0 L533.1,205.0 L544.1,192.4 L555.0,180.1 L565.9,175.3 L576.8,170.5 L587.7,169.5 L598.7,183.1 L609.6,175.1 L620.5,172.0 L631.4,170.6 L642.3,167.5 L653.3,169.8 L664.2,175.1 L675.1,170.6 L686.0,164.5 L696.9,162.6 L707.9,150.8"/>
<path d="M74.5,323.9 L85.4,318.4 L96.3,312.8 L107.3,307.6 L118.2,302.3 L129.1,296.9 L140.0,291.4 L150.9,286.1 L161.9,280.7 L172.8,275.7 L183.7,270.6 L194.6,264.9 L205.5,259.2 L216.5,253.2 L227.4,249.0 L238.3,249.9 L249.2,246.3 L260.1,243.2 L271.1,237.9 L282.0,244.9 L292.9,240.8 L303.8,235.4 L314.7,239.8 L325.7,238.1 L336.6,220.8 L347.5,218.1 L358.4,215.9 L369.3,222.6 L380.3,221.6 L391.2,210.2 L402.1,202.0 L413.0,201.0 L423.9,200.3 L434.9,191.1 L445.8,186.1 L456.7,181.2 L467.6,177.2 L478.5,172.6 L489.5,163.5 L500.4,168.6 L511.3,174.4 L522.2,169.8 L533.1,171.5 L544.1,169.8 L555.0,169.3 L565.9,164.5 L576.8,160.6 L587.7,158.8 L598.7,146.6 L609.6,152.5 L620.5,157.6 L631.4,160.0 L642.3,162.6 L653.3,157.6 L664.2,147.9 L675.1,137.5 L686.0,133.8 L696.9,129.7 L707.9,129.9"/>
<path d="M74.5,372.7 L85.4,385.1 L96.3,379.2 L107.3,373.4 L118.2,367.7 L129.1,361.8 L140.0,356.0 L150.9,350.1 L161.9,344.3 L172.8,338.8 L183.7,333.4 L194.6,322.9 L205.5,315.6 L216.5,308.4 L227.4,304.3 L238.3,292.5 L249.2,290.1 L260.1,291.2 L271.1,288.6 L282.0,279.7 L292.9,273.2 L303.8,271.6 L314.7,273.2 L325.7,266.0 L336.6,256.5 L347.5,253.8 L358.4,250.1 L369.3,240.1 L380.3,235.7 L391.2,235.6 L402.1,225.3 L413.0,217.5 L423.9,218.0 L434.9,208.8 L445.8,207.4 L456.7,206.8 L467.6,202.6 L478.5,200.0 L489.5,196.0 L500.4,195.7 L511.3,189.3 L522.2,193.8 L533.1,182.5 L544.1,181.3 L555.0,181.0 L565.9,185.1 L576.8,185.7 L587.7,179.3 L598.7,180.4 L609.6,187.1 L620.5,180.9 L631.4,180.1 L642.3,171.9 L653.3,175.1 L664.2,179.7 L675.1,170.9 L686.0,171.7 L696.9,176.0 L707.9,176.7"/>
</g>
<path d="M74.5,357.5 L85.4,351.8 L96.3,346.0 L107.3,340.5 L118.2,335.0 L129.1,329.4 L140.0,323.7 L150.9,318.1 L161.9,312.5 L172.8,307.2 L183.7,302.0 L194.6,296.0 L205.5,290.0 L216.5,283.8 L227.4,277.5 L238.3,273.0 L249.2,268.5 L260.1,265.0 L271.1,261.5 L282.0,257.6 L292.9,253.7 L303.8,249.1 L314.7,244.5 L325.7,240.2 L336.6,236.0 L347.5,232.2 L358.4,228.5 L369.3,225.0 L380.3,221.5 L391.2,218.2 L402.1,215.0 L413.0,212.0 L423.9,208.5 L434.9,205.0 L445.8,201.2 L456.7,197.5 L467.6,193.7 L478.5,191.1 L489.5,188.6 L500.4,186.0 L511.3,183.8 L522.2,181.7 L533.1,179.5 L544.1,177.8 L555.0,176.0 L565.9,173.2 L576.8,170.5 L587.7,167.2 L598.7,164.0 L609.6,162.0 L620.5,160.0 L631.4,158.2 L642.3,156.5 L653.3,154.8 L664.2,153.0 L675.1,151.5 L686.0,150.0 L696.9,148.5 L707.9,147.0" fill="none" stroke="#000" stroke-width="3.0" stroke-linecap="round" stroke-dasharray="3 9.3"/>
<path d="M74.5,279.2 L85.4,281.3 L96.3,282.0 L107.3,269.3 L118.2,266.0 L129.1,262.5 L140.0,259.5 L150.9,256.0 L161.9,254.0 L172.8,242.5 L183.7,232.5 L194.6,224.0 L205.5,216.0 L216.5,208.0 L227.4,199.5 L238.3,191.0 L249.2,184.5 L260.1,179.5 L271.1,181.7 L282.0,176.0 L292.9,173.7 L303.8,167.5 L314.7,162.0 L325.7,153.7 L336.6,155.0 L347.5,145.0 L358.4,127.5 L369.3,128.0 L380.3,132.0 L391.2,127.5 L402.1,120.5 L413.0,118.0 L423.9,115.8 L434.9,115.0 L445.8,112.0 L456.7,108.0 L467.6,98.7 L478.5,95.0 L489.5,100.0 L500.4,103.0 L511.3,101.0 L522.2,98.0 L533.1,93.0 L544.1,91.0 L555.0,90.0 L565.9,90.5 L576.8,95.5 L587.7,101.0 L598.7,102.0 L609.6,95.0 L620.5,88.0 L631.4,86.0 L642.3,85.5 L653.3,87.0 L664.2,88.7 L675.1,88.0 L686.0,85.0 L696.9,80.5 L707.9,77.0" fill="none" stroke="#ffff00" stroke-width="3.1" stroke-linejoin="round" stroke-linecap="round"/>
<path d="M74.5,273.0 L85.4,268.7 L96.3,262.5 L107.3,262.0 L118.2,266.0 L129.1,267.0 L140.0,263.7 L150.9,262.5 L161.9,263.0 L172.8,260.0 L183.7,261.0 L194.6,260.0 L205.5,256.0 L216.5,254.0 L227.4,251.0 L238.3,245.5 L249.2,233.5 L260.1,226.0 L271.1,218.7 L282.0,214.5 L292.9,213.7 L303.8,220.5 L314.7,213.7 L325.7,216.0 L336.6,212.0 L347.5,210.5 L358.4,212.0 L369.3,203.7 L380.3,207.0 L391.2,201.0 L402.1,197.5 L413.0,197.0 L423.9,199.0 L434.9,199.5 L445.8,200.0 L456.7,198.7 L467.6,200.0 L478.5,201.0 L489.5,200.0 L500.4,200.0 L511.3,200.0 L522.2,201.0 L533.1,197.5 L544.1,192.5 L555.0,187.5 L565.9,183.7 L576.8,179.0 L587.7,175.0 L598.7,170.5 L609.6,166.0 L620.5,163.7 L631.4,153.7 L642.3,146.0 L653.3,147.0 L664.2,143.7 L675.1,140.5 L686.0,137.5 L696.9,134.5 L707.9,132.0" fill="none" stroke="#a020f0" stroke-width="3.1" stroke-linejoin="round" stroke-linecap="round"/>
<path d="M74.5,345.7 L85.4,341.0 L96.3,333.7 L107.3,326.0 L118.2,318.7 L129.1,313.7 L140.0,312.0 L150.9,310.7 L161.9,309.5 L172.8,308.7 L183.7,303.7 L194.6,302.5 L205.5,303.0 L216.5,300.5 L227.4,292.0 L238.3,283.5 L249.2,277.5 L260.1,272.5 L271.1,267.5 L282.0,263.7 L292.9,261.0 L303.8,256.0 L314.7,251.0 L325.7,253.0 L336.6,247.5 L347.5,245.5 L358.4,241.0 L369.3,237.0 L380.3,233.7 L391.2,230.0 L402.1,226.0 L413.0,215.0 L423.9,205.5 L434.9,200.0 L445.8,195.5 L456.7,191.0 L467.6,186.5 L478.5,184.0 L489.5,177.5 L500.4,173.7 L511.3,171.0 L522.2,168.7 L533.1,158.7 L544.1,156.0 L555.0,151.0 L565.9,150.0 L576.8,153.7 L587.7,155.0 L598.7,146.0 L609.6,138.2 L620.5,136.0 L631.4,133.0 L642.3,132.5 L653.3,140.0 L664.2,138.7 L675.1,146.0 L686.0,153.7 L696.9,153.0 L707.9,149.5" fill="none" stroke="#00ff00" stroke-width="3.1" stroke-linejoin="round" stroke-linecap="round"/>
<path d="M74.5,414.5 L85.4,408.7 L96.3,402.5 L107.3,397.0 L118.2,391.0 L129.1,389.5 L140.0,388.0 L150.9,385.0 L161.9,376.0 L172.8,363.7 L183.7,350.0 L194.6,338.5 L205.5,328.0 L216.5,318.7 L227.4,317.0 L238.3,314.5 L249.2,311.0 L260.1,297.5 L271.1,290.0 L282.0,281.0 L292.9,276.0 L303.8,271.0 L314.7,273.7 L325.7,277.5 L336.6,279.5 L347.5,280.0 L358.4,276.0 L369.3,267.0 L380.3,257.5 L391.2,254.0 L402.1,253.0 L413.0,247.5 L423.9,245.3 L434.9,244.5 L445.8,245.5 L456.7,244.5 L467.6,237.5 L478.5,230.0 L489.5,227.5 L500.4,226.0 L511.3,228.0 L522.2,226.0 L533.1,218.7 L544.1,208.7 L555.0,198.7 L565.9,192.5 L576.8,189.5 L587.7,188.7 L598.7,191.0 L609.6,197.0 L620.5,196.0 L631.4,195.5 L642.3,191.0 L653.3,190.0 L664.2,191.0 L675.1,194.5 L686.0,197.0 L696.9,188.7 L707.9,180.0" fill="none" stroke="#0000ff" stroke-width="3.1" stroke-linejoin="round" stroke-linecap="round"/>
<path d="M74.5,368.0 L85.4,364.5 L96.3,360.0 L107.3,353.7 L118.2,347.5 L129.1,343.7 L140.0,340.0 L150.9,338.0 L161.9,332.5 L172.8,327.5 L183.7,323.7 L194.6,321.0 L205.5,317.0 L216.5,306.0 L227.4,301.5 L238.3,298.2 L249.2,295.5 L260.1,292.0 L271.1,287.5 L282.0,281.0 L292.9,276.0 L303.8,266.0 L314.7,258.7 L325.7,251.0 L336.6,246.0 L347.5,245.5 L358.4,249.5 L369.3,249.5 L380.3,245.2 L391.2,235.5 L402.1,228.7 L413.0,230.0 L423.9,236.0 L434.9,236.0 L445.8,237.0 L456.7,230.0 L467.6,225.0 L478.5,220.0 L489.5,217.5 L500.4,212.5 L511.3,207.5 L522.2,206.0 L533.1,205.0 L544.1,203.7 L555.0,200.0 L565.9,191.0 L576.8,186.0 L587.7,181.5 L598.7,178.7 L609.6,178.0 L620.5,182.5 L631.4,179.5 L642.3,178.7 L653.3,181.5 L664.2,185.0 L675.1,180.5 L686.0,175.8 L696.9,175.8 L707.9,178.7" fill="none" stroke="#ffa500" stroke-width="3.1" stroke-linejoin="round" stroke-linecap="round"/>
<path d="M74.5,414.5 L85.4,406.0 L96.3,397.5 L107.3,388.7 L118.2,386.0 L129.1,378.7 L140.0,367.5 L150.9,361.0 L161.9,350.0 L172.8,343.0 L183.7,341.0 L194.6,347.5 L205.5,344.5 L216.5,334.7 L227.4,323.6 L238.3,316.8 L249.2,304.8 L260.1,302.2 L271.1,301.4 L282.0,292.0 L292.9,286.0 L303.8,284.0 L314.7,280.0 L325.7,273.7 L336.6,267.5 L347.5,265.0 L358.4,265.0 L369.3,257.5 L380.3,245.0 L391.2,236.0 L402.1,228.7 L413.0,230.0 L423.9,224.0 L434.9,220.0 L445.8,216.0 L456.7,216.0 L467.6,212.5 L478.5,208.7 L489.5,205.0 L500.4,202.5 L511.3,198.7 L522.2,196.0 L533.1,195.0 L544.1,195.5 L555.0,193.7 L565.9,187.5 L576.8,181.0 L587.7,177.5 L598.7,174.2 L609.6,172.8 L620.5,172.5 L631.4,171.0 L642.3,167.0 L653.3,163.0 L664.2,158.7 L675.1,153.7 L686.0,148.7 L696.9,146.0 L707.9,147.5" fill="none" stroke="#000000" stroke-width="3.1" stroke-linejoin="round" stroke-linecap="round"/>
<path d="M74.5,375.0 L85.4,371.0 L96.3,367.5 L107.3,364.5 L118.2,361.0 L129.1,357.5 L140.0,352.5 L150.9,349.5 L161.9,346.0 L172.8,342.5 L183.7,337.5 L194.6,331.0 L205.5,322.8 L216.5,322.0 L227.4,313.4 L238.3,306.0 L249.2,300.5 L260.1,295.0 L271.1,288.7 L282.0,283.7 L292.9,281.0 L303.8,278.7 L314.7,273.7 L325.7,266.0 L336.6,263.7 L347.5,262.5 L358.4,253.7 L369.3,255.0 L380.3,255.0 L391.2,247.5 L402.1,240.0 L413.0,230.0 L423.9,221.6 L434.9,216.0 L445.8,210.0 L456.7,201.8 L467.6,198.8 L478.5,196.2 L489.5,197.2 L500.4,193.7" fill="none" stroke="#ff0000" stroke-width="6.2" stroke-linejoin="round" stroke-linecap="round"/>
<line x1="500.4" x2="500.4" y1="63.5" y2="430.9" stroke="#000" stroke-width="0.9"/>
<text transform="translate(507.60,197.10) scale(0.915,1)" font-size="9.5" text-anchor="start" fill="#ff0000">17.721</text>
<rect x="63.2" y="63.5" width="655.4" height="367.4" fill="none" stroke="#000" stroke-width="0.85"/>
<line x1="74.5" x2="74.5" y1="430.9" y2="436.5" stroke="#000" stroke-width="0.85"/>
<text transform="translate(73.90,452.00) scale(0.92,1)" font-size="10.2" text-anchor="middle" fill="#000" font-weight="bold">190</text>
<line x1="183.7" x2="183.7" y1="430.9" y2="436.5" stroke="#000" stroke-width="0.85"/>
<text transform="translate(183.10,452.00) scale(0.92,1)" font-size="10.2" text-anchor="middle" fill="#000" font-weight="bold">200</text>
<line x1="292.9" x2="292.9" y1="430.9" y2="436.5" stroke="#000" stroke-width="0.85"/>
<text transform="translate(292.30,452.00) scale(0.92,1)" font-size="10.2" text-anchor="middle" fill="#000" font-weight="bold">210</text>
<line x1="402.1" x2="402.1" y1="430.9" y2="436.5" stroke="#000" stroke-width="0.85"/>
<text transform="translate(401.50,452.00) scale(0.92,1)" font-size="10.2" text-anchor="middle" fill="#000" font-weight="bold">220</text>
<line x1="511.3" x2="511.3" y1="430.9" y2="436.5" stroke="#000" stroke-width="0.85"/>
<text transform="translate(510.70,452.00) scale(0.92,1)" font-size="10.2" text-anchor="middle" fill="#000" font-weight="bold">230</text>
<line x1="620.5" x2="620.5" y1="430.9" y2="436.5" stroke="#000" stroke-width="0.85"/>
<text transform="translate(619.90,452.00) scale(0.92,1)" font-size="10.2" text-anchor="middle" fill="#000" font-weight="bold">240</text>
<line x1="57.6" x2="63.2" y1="389.1" y2="389.1" stroke="#000" stroke-width="0.85"/>
<text transform="translate(50.60,389.10) rotate(-90) scale(0.92,1)" font-size="10.0" text-anchor="middle" fill="#000" font-weight="bold">15</text>
<line x1="57.6" x2="63.2" y1="317.3" y2="317.3" stroke="#000" stroke-width="0.85"/>
<text transform="translate(50.60,317.30) rotate(-90) scale(0.92,1)" font-size="10.0" text-anchor="middle" fill="#000" font-weight="bold">16</text>
<line x1="57.6" x2="63.2" y1="245.5" y2="245.5" stroke="#000" stroke-width="0.85"/>
<text transform="translate(50.60,245.50) rotate(-90) scale(0.92,1)" font-size="10.0" text-anchor="middle" fill="#000" font-weight="bold">17</text>
<line x1="57.6" x2="63.2" y1="173.7" y2="173.7" stroke="#000" stroke-width="0.85"/>
<text transform="translate(50.60,173.70) rotate(-90) scale(0.92,1)" font-size="10.0" text-anchor="middle" fill="#000" font-weight="bold">18</text>
<line x1="57.6" x2="63.2" y1="101.9" y2="101.9" stroke="#000" stroke-width="0.85"/>
<text transform="translate(50.60,101.90) rotate(-90) scale(0.92,1)" font-size="10.0" text-anchor="middle" fill="#000" font-weight="bold">19</text>
<text x="390.5" y="45.3" font-size="11.4" font-weight="bold" text-anchor="middle">Antarctic Sea Ice Extent Day 229 1978 to 2020</text>
<text transform="translate(390.80,474.80) scale(0.89,1)" font-size="10.2" text-anchor="middle" fill="#000">Day of Year</text>
<text transform="translate(390.80,486.20) scale(0.902,1)" font-size="10.2" text-anchor="middle" fill="#000" xml:space="preserve">Today's Ice Extent: 17.721  - Record for the day: 18.987 which occurred on 2014 8 17  - Mean: 17.83</text>
<text x="18" y="475" font-size="18.7">http://sunshinehours.wordpress.com</text>
<text transform="translate(28.20,246.50) rotate(-90) scale(0.925,1)" font-size="10.2" text-anchor="middle" fill="#000">Ice Extent in millions of sq. km.</text>
<line x1="74.5" x2="74.5" y1="63.5" y2="430.9" stroke="#cfcfcf" stroke-width="0.8" stroke-dasharray="0.8 2.3"/>
<line x1="183.7" x2="183.7" y1="63.5" y2="430.9" stroke="#cfcfcf" stroke-width="0.8" stroke-dasharray="0.8 2.3"/>
<line x1="292.9" x2="292.9" y1="63.5" y2="430.9" stroke="#cfcfcf" stroke-width="0.8" stroke-dasharray="0.8 2.3"/>
<line x1="402.1" x2="402.1" y1="63.5" y2="430.9" stroke="#cfcfcf" stroke-width="0.8" stroke-dasharray="0.8 2.3"/>
<line x1="511.3" x2="511.3" y1="63.5" y2="430.9" stroke="#cfcfcf" stroke-width="0.8" stroke-dasharray="0.8 2.3"/>
<line x1="620.5" x2="620.5" y1="63.5" y2="430.9" stroke="#cfcfcf" stroke-width="0.8" stroke-dasharray="0.8 2.3"/>
<line x1="63.2" x2="718.6" y1="389.1" y2="389.1" stroke="#cfcfcf" stroke-width="0.8" stroke-dasharray="0.8 2.3"/>
<line x1="63.2" x2="718.6" y1="317.3" y2="317.3" stroke="#cfcfcf" stroke-width="0.8" stroke-dasharray="0.8 2.3"/>
<line x1="63.2" x2="718.6" y1="245.5" y2="245.5" stroke="#cfcfcf" stroke-width="0.8" stroke-dasharray="0.8 2.3"/>
<line x1="63.2" x2="718.6" y1="173.7" y2="173.7" stroke="#cfcfcf" stroke-width="0.8" stroke-dasharray="0.8 2.3"/>
<line x1="63.2" x2="718.6" y1="101.9" y2="101.9" stroke="#cfcfcf" stroke-width="0.8" stroke-dasharray="0.8 2.3"/>
<rect x="544.7" y="306.6" width="173.9" height="124.3" fill="none" stroke="#000" stroke-width="0.85"/>
<line x1="552.6" x2="569.4" y1="317.7" y2="317.7" stroke="#ff0000" stroke-width="4.6" stroke-linecap="round"/>
<text transform="translate(577.90,321.70) scale(0.898,1)" font-size="10.3" text-anchor="start" fill="#000">2020</text>
<line x1="552.7" x2="569.4" y1="329.1" y2="329.1" stroke="#000" stroke-width="3.0" stroke-linecap="round" stroke-dasharray="3 9"/>
<text transform="translate(577.90,333.07) scale(0.898,1)" font-size="10.3" text-anchor="start" fill="#000">Mean 1981-2010</text>
<line x1="552.4" x2="569.6" y1="339.9" y2="339.9" stroke="#d3d3d3" stroke-width="11.4" stroke-linecap="round"/>
<text transform="translate(577.90,344.44) scale(0.898,1)" font-size="10.3" text-anchor="start" fill="#000">1 Standard Deviation From Mean</text>
<line x1="552.6" x2="569.4" y1="351.8" y2="351.8" stroke="#000" stroke-width="3.1" stroke-linecap="round"/>
<text transform="translate(577.90,355.81) scale(0.898,1)" font-size="10.3" text-anchor="start" fill="#000">2019</text>
<line x1="552.6" x2="569.4" y1="363.2" y2="363.2" stroke="#ffa500" stroke-width="3.1" stroke-linecap="round"/>
<text transform="translate(577.90,367.18) scale(0.898,1)" font-size="10.3" text-anchor="start" fill="#000">2018</text>
<line x1="552.6" x2="569.4" y1="374.5" y2="374.5" stroke="#0000ff" stroke-width="3.1" stroke-linecap="round"/>
<text transform="translate(577.90,378.55) scale(0.898,1)" font-size="10.3" text-anchor="start" fill="#000">2017</text>
<line x1="552.6" x2="569.4" y1="385.9" y2="385.9" stroke="#00ff00" stroke-width="3.1" stroke-linecap="round"/>
<text transform="translate(577.90,389.92) scale(0.898,1)" font-size="10.3" text-anchor="start" fill="#000">2016</text>
<line x1="552.6" x2="569.4" y1="397.3" y2="397.3" stroke="#a020f0" stroke-width="3.1" stroke-linecap="round"/>
<text transform="translate(577.90,401.29) scale(0.898,1)" font-size="10.3" text-anchor="start" fill="#000">2015</text>
<line x1="552.6" x2="569.4" y1="408.7" y2="408.7" stroke="#ffff00" stroke-width="3.1" stroke-linecap="round"/>
<text transform="translate(577.90,412.66) scale(0.898,1)" font-size="10.3" text-anchor="start" fill="#000">2014</text>
<line x1="551.6" x2="570.4" y1="420.0" y2="420.0" stroke="#000" stroke-width="0.7" stroke-linecap="butt"/>
<text transform="translate(577.90,424.03) scale(0.898,1)" font-size="10.3" text-anchor="start" fill="#000">Every Other Year</text>
</svg></body></html>
